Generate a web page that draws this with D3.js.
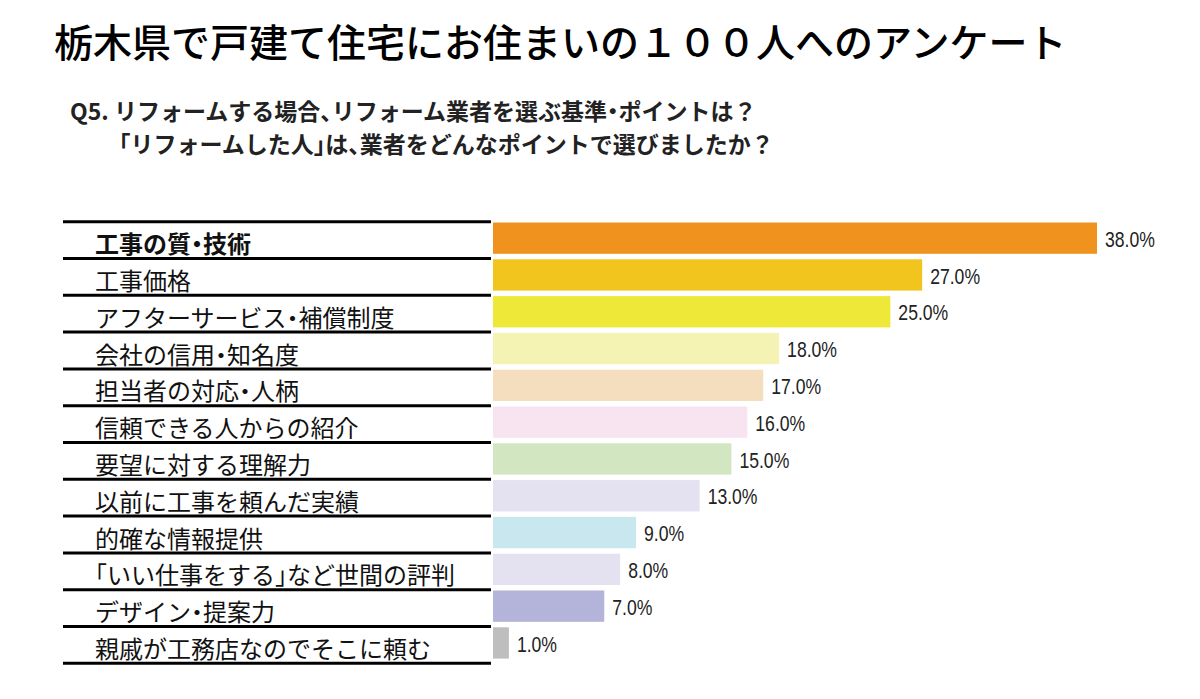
<!DOCTYPE html>
<html><head><meta charset="utf-8">
<script src="https://cdn.jsdelivr.net/npm/d3@7"></script>
<style>
body{margin:0;background:#fff;}
svg{display:block;}
.hw{font-feature-settings:"halt";}
</style></head>
<body>
<svg id="chart" width="1200" height="699"></svg>
<script>
const title = "栃木県で戸建て住宅にお住まいの１００人へのアンケート";
const subtitle1 = "Q5. リフォームする場合、リフォーム業者を選ぶ基準・ポイントは？";
const subtitle2 = "「リフォームした人」は、業者をどんなポイントで選びましたか？";
const categories = ["工事の質・技術","工事価格","アフターサービス・補償制度","会社の信用・知名度","担当者の対応・人柄","信頼できる人からの紹介","要望に対する理解力","以前に工事を頼んだ実績","的確な情報提供","「いい仕事をする」など世間の評判","デザイン・提案力","親戚が工務店なのでそこに頼む"];
const values = [38,27,25,18,17,16,15,13,9,8,7,1];
const colors = ["#F0931E","#F2C41E","#EEE838","#F5F3B4","#F5DEBD","#F8E4F0","#D2E6C2","#E4E2F1","#C8E7EF","#E4E2F1","#B4B3D9","#BEBEBE"];

const svg = d3.select("#chart");
const jp = "'Noto Sans CJK JP','Noto Sans',sans-serif";

// split text so that punctuation gets half-width glyphs
function fillText(sel, str){
  const parts = str.match(/[・「」、]|[^・「」、]+/g);
  sel.selectAll("tspan").data(parts).join("tspan")
    .attr("class",p=>/^[・「」、]$/.test(p)?"hw":null).text(p=>p);
}

svg.append("text").attr("x",54).attr("y",40).attr("dominant-baseline","central")
  .attr("font-family",jp).attr("font-weight",500).attr("font-size",39).attr("fill","#000").text(title);

svg.append("text").attr("x",70).attr("y",110).attr("dominant-baseline","central")
  .attr("font-family",jp).attr("font-weight",700).attr("font-size",23).attr("fill","#222")
  .call(fillText, subtitle1);
svg.append("text").attr("x",119).attr("y",143).attr("dominant-baseline","central")
  .attr("font-family",jp).attr("font-weight",700).attr("font-size",23).attr("fill","#222")
  .call(fillText, subtitle2);

const x = d3.scaleLinear().domain([0,38]).range([493,1097]);
const y = d3.scaleBand().domain(categories).range([221.7,663.3]).padding(0);
const bw = y.bandwidth();

// separator lines
const lineYs = categories.map(c=>y(c)).concat([y(categories[categories.length-1])+bw]);
svg.append("g").selectAll("line").data(lineYs).join("line")
  .attr("x1",63).attr("x2",491).attr("y1",d=>d).attr("y2",d=>d)
  .attr("stroke","#000").attr("stroke-width",3);

// bars
svg.append("g").selectAll("rect").data(categories).join("rect")
  .attr("x",x(0)).attr("y",c=>y(c)+0.8).attr("width",(c,i)=>x(values[i])-x(0))
  .attr("height",bw-5.5).attr("fill",(c,i)=>colors[i]);

// category labels
svg.append("g").selectAll("text").data(categories).join("text")
  .attr("x",95).attr("y",c=>y(c)+bw/2+2).attr("dominant-baseline","central")
  .attr("font-family",jp).attr("font-size",24).attr("fill","#111")
  .attr("font-weight",(c,i)=>i===0?700:400)
  .each(function(c){ d3.select(this).call(fillText, c); });

// value labels (narrow face)
svg.append("g").selectAll("text").data(categories).join("text")
  .attr("transform",(c,i)=>`translate(${x(values[i])+8},${y(c)+bw/2-1}) scale(0.8,1)`)
  .attr("dominant-baseline","central")
  .attr("font-family","'Liberation Sans Narrow','Arial Narrow','Liberation Sans',sans-serif")
  .attr("font-size",22).attr("fill","#222").text((c,i)=>d3.format(".1f")(values[i])+"%");
</script>
</body></html>
